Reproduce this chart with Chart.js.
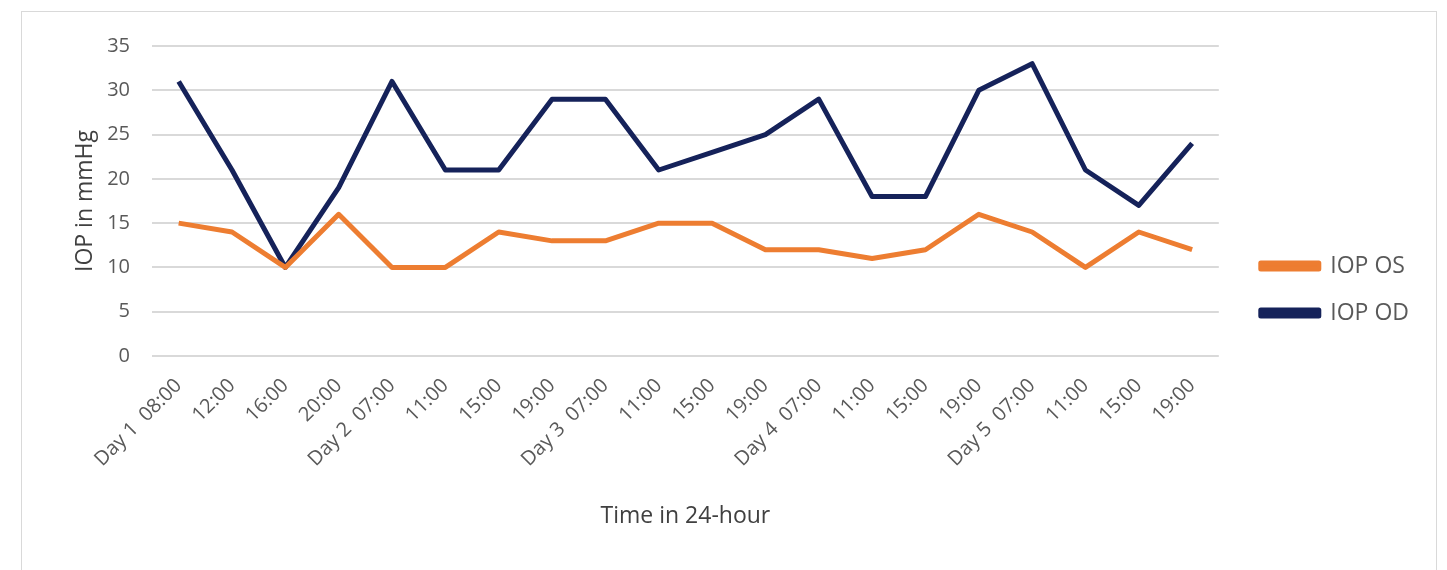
<!DOCTYPE html>
<html>
<head>
<meta charset="utf-8">
<script src="https://cdn.jsdelivr.net/npm/chart.js@4.4.1/dist/chart.umd.min.js"></script>
<style>
  html, body { margin: 0; padding: 0; background: #fff; }
  #frame {
    position: absolute; left: 21px; top: 11px;
    width: 1414px; height: 580px;
    border: 1px solid #d9d9d9;
  }
  #box { position: absolute; left: 0; top: 0; width: 1414px; height: 556px; }
</style>
</head>
<body>
<div id="frame">
  <div id="box"><canvas id="iopChart"></canvas></div>
</div>
<script>
// Heures de mesure (5 jours)
const timeLabels = [
  "Day 1  08:00", "12:00", "16:00", "20:00",
  "Day 2  07:00", "11:00", "15:00", "19:00",
  "Day 3  07:00", "11:00", "15:00", "19:00",
  "Day 4  07:00", "11:00", "15:00", "19:00",
  "Day 5  07:00", "11:00", "15:00", "19:00"
];

// Pression intraoculaire (mmHg)
const iopOS = [15, 14, 10, 16, 10, 10, 14, 13, 13, 15, 15, 12, 12, 11, 12, 16, 14, 10, 14, 12];
const iopOD = [31, 21, 10, 19, 31, 21, 21, 29, 29, 21, 23, 25, 29, 18, 18, 30, 33, 21, 17, 24];

const yTicks = [0, 5, 10, 15, 20, 25, 30, 35];

const fontFamily = "'Open Sans', 'Noto Sans', sans-serif";

const ctx = document.getElementById("iopChart").getContext("2d");
new Chart(ctx, {
  type: "line",
  data: {
    labels: timeLabels,
    datasets: [
      {
        label: "IOP OS",
        data: iopOS,
        borderColor: "#ED7D31",
        backgroundColor: "#ED7D31",
        borderWidth: 5,
        pointRadius: 0,
        borderJoinStyle: "round",
        tension: 0
      },
      {
        label: "IOP OD",
        data: iopOD,
        borderColor: "#15225A",
        backgroundColor: "#15225A",
        borderWidth: 5,
        pointRadius: 0,
        borderJoinStyle: "round",
        tension: 0
      }
    ]
  },
  options: {
    responsive: true,
    maintainAspectRatio: false,
    animation: false,
    layout: { padding: { left: 50, top: 15, right: 17, bottom: 16 } },
    plugins: {
      tooltip: { enabled: false },
      legend: {
        position: "right",
        labels: {
          boxWidth: 58,
          boxHeight: 6,
          padding: 24,
          color: "#595959",
          font: { family: fontFamily, size: 23 }
        }
      }
    },
    scales: {
      x: {
        offset: true,
        grid: { display: false },
        border: { display: false },
        afterFit: scale => { scale.height = 196; },
        ticks: {
          color: "#595959",
          minRotation: 45,
          maxRotation: 45,
          autoSkip: false,
          padding: 10,
          font: { family: fontFamily, size: 20 }
        },
        title: {
          display: true,
          text: "Time in 24-hour",
          color: "#404040",
          padding: { top: 4, bottom: 22 },
          font: { family: fontFamily, size: 23 }
        }
      },
      y: {
        min: 0,
        max: 35,
        afterBuildTicks: scale => { scale.ticks = yTicks.map(v => ({ value: v })); },
        afterFit: scale => { scale.width = 80; },
        grid: { color: "#d9d9d9", lineWidth: 2, drawTicks: false },
        border: { display: false },
        ticks: {
          color: "#595959",
          padding: 22,
          font: { family: fontFamily, size: 20 }
        },
        title: {
          display: true,
          text: "IOP in mmHg",
          color: "#404040",
          padding: 0,
          font: { family: fontFamily, size: 23 }
        }
      },
      // marge vide entre la zone du graphe et la légende
      gap: {
        type: "linear",
        position: "right",
        min: 0,
        max: 35,
        grid: { display: false },
        border: { display: false },
        ticks: { display: false },
        afterFit: scale => { scale.width = 18; }
      }
    }
  }
});
</script>
</body>
</html>
